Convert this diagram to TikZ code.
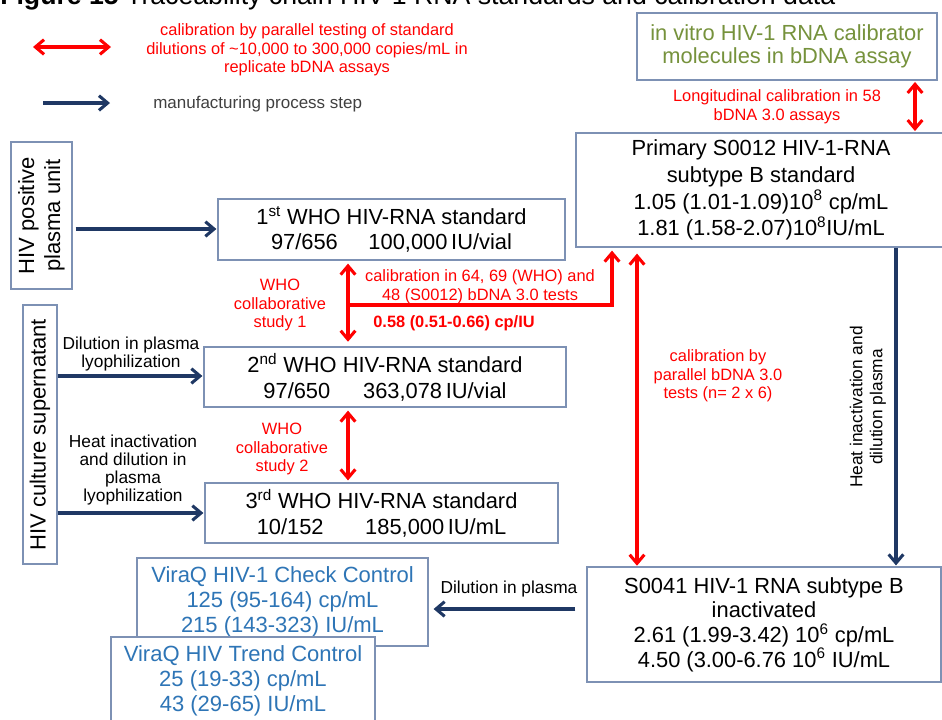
\documentclass[tikz,border=0pt]{standalone}
\usepackage{fontspec}
\setmainfont{Liberation Sans}
\usetikzlibrary{arrows.meta}
\definecolor{navy}{RGB}{31,56,100}
\definecolor{boxline}{RGB}{125,145,180}
\definecolor{olivegreen}{RGB}{118,146,60}
\definecolor{vqblue}{RGB}{46,117,182}
\definecolor{labgray}{RGB}{64,64,64}
\begin{document}
\begin{tikzpicture}[x=0.75pt,y=-0.75pt,
  box/.style={draw=boxline,line width=0.9pt,fill=white,inner sep=0pt,align=center},
  boxtext/.style={font=\fontsize{16.4}{19}\selectfont},
  redtext/.style={text=red,align=center,inner sep=0pt,font=\fontsize{12.3}{13.9}\selectfont},
  blacklabel/.style={text=black,align=center,inner sep=0pt,font=\fontsize{13}{13.5}\selectfont},
  navyarrow/.style={draw=navy,line width=2.3pt,-{Straight Barb[length=6.5pt,width=11pt]}},
  redboth/.style={draw=red,line width=2.3pt,{Straight Barb[length=6.5pt,width=11pt]}-{Straight Barb[length=6.5pt,width=11pt]}},
  redone/.style={draw=red,line width=2.3pt,-{Straight Barb[length=6.5pt,width=11pt]}},
]
\useasboundingbox (0,0) rectangle (942,719);
\clip (0,0) rectangle (942,719);

% title (cropped at the top in the reference)
\node[anchor=base west,inner sep=0pt,font=\fontsize{20}{20}\selectfont] (title) at (0,4)
  {\textbf{Figure 15} Traceability chain HIV-1 RNA standards and calibration data};

% legend
\coordinate (lra) at (33,47);
\coordinate (lrb) at (111,47);
\draw[redboth] (lra) -- (lrb);
\node[redtext] (legred) at (307,50)
  {calibration by parallel testing of standard\\dilutions of \textasciitilde10,000 to 300,000 copies/mL in\\replicate bDNA assays};
\coordinate (lba) at (43,103);
\coordinate (lbb) at (110,103);
\draw[navyarrow] (lba) -- (lbb);
\node[anchor=base west,inner sep=0pt,text=labgray,font=\fontsize{12.75}{14}\selectfont] (legblue) at (153,108)
  {manufacturing process step};

% boxes
\node[box,text=olivegreen,font=\fontsize{16.4}{17.5}\selectfont,minimum width=225pt,minimum height=50.25pt] (green) at (787,46.5)
  {in vitro HIV-1 RNA calibrator\\molecules in bDNA assay};
\node[box,boxtext,font=\fontsize{16.4}{20}\selectfont,minimum width=277.5pt,minimum height=85.5pt] (primary) at (761,190)
  {Primary S0012 HIV-1-RNA\\subtype B standard\\1.05 (1.01-1.09)10\textsuperscript{8} cp/mL\\1.81 (1.58-2.07)10\textsuperscript{8}IU/mL};
\node[box,boxtext,minimum width=260.25pt,minimum height=45.75pt] (who1) at (391.5,229.5)
  {1\textsuperscript{st} WHO HIV-RNA standard\\97/656\hspace{1.4em}100,000\,IU/vial};
\node[box,boxtext,minimum width=271.5pt,minimum height=45pt] (who2) at (385,377)
  {2\textsuperscript{nd} WHO HIV-RNA standard\\97/650\hspace{1.5em}363,078\,IU/vial};
\node[box,boxtext,minimum width=264.75pt,minimum height=45pt] (who3) at (381.5,513)
  {3\textsuperscript{rd} WHO HIV-RNA standard\\10/152\hspace{1.9em}185,000\,IU/mL};
\node[box,boxtext,font=\fontsize{16.4}{18.5}\selectfont,minimum width=265.5pt,minimum height=86.25pt] (s0041) at (764,624.5)
  {S0041 HIV-1 RNA subtype B\\inactivated\\2.61 (1.99-3.42) 10\textsuperscript{6} cp/mL\\4.50 (3.00-6.76 10\textsuperscript{6} IU/mL};
\node[box,text=vqblue,font=\fontsize{16.5}{18.75}\selectfont,minimum width=218.25pt,minimum height=66pt] (check) at (282.5,602)
  {ViraQ HIV-1 Check Control\\125 (95-164) cp/mL\\215 (143-323) IU/mL};
\node[box,text=vqblue,font=\fontsize{16.5}{18.75}\selectfont,minimum width=198pt,minimum height=66pt] (trend) at (243,681)
  {ViraQ HIV Trend Control\\25 (19-33) cp/mL\\43 (29-65) IU/mL};
\node[box,rotate=90,font=\fontsize{16.5}{19.5}\selectfont,minimum width=110.25pt,minimum height=45.75pt] (hivpos) at (41.5,215.5)
  {HIV positive\\plasma unit};
\node[box,rotate=90,font=\fontsize{16.5}{19.5}\selectfont,minimum width=194.25pt,minimum height=25.5pt] (culture) at (40,434.5)
  {HIV culture supernatant};

% labels
\node[blacklabel] (lab1) at (131,354) {Dilution in plasma\\lyophilization};
\node[blacklabel] (lab2) at (133,470.5) {Heat inactivation\\and dilution in\\plasma\\lyophilization};
\node[blacklabel,anchor=base] (lab3) at (509,593) {Dilution in plasma};
\node[blacklabel,rotate=90,font=\fontsize{13}{15}\selectfont] (lab4) at (868,407) {Heat inactivation and\\dilution plasma};
\node[redtext] (lablong) at (777,107) {Longitudinal calibration in 58\\bDNA 3.0 assays};
\node[redtext] (labcal) at (480,287) {calibration in 64, 69 (WHO) and\\48 (S0012) bDNA 3.0 tests};
\node[redtext,anchor=base,font=\bfseries\fontsize{12.3}{13.9}\selectfont] (labratio) at (454,327) {0.58 (0.51-0.66) cp/IU};
\node[redtext] (labcs1) at (280,305) {WHO\\collaborative\\study 1};
\node[redtext] (labcs2) at (282,449) {WHO\\collaborative\\study 2};
\node[redtext] (labpar) at (718,376) {calibration by\\parallel bDNA 3.0\\tests (n= 2 x 6)};

% helper coordinates
\coordinate (xg) at (915,0);
\coordinate (xw) at (348,0);
\coordinate (xl) at (637,0);
\coordinate (xd) at (896,0);
\coordinate (junc) at (348,305);
\coordinate (brk) at (612,305);
\coordinate (ya) at (0,229);
\coordinate (yb) at (0,376);
\coordinate (yc) at (0,513);
\coordinate (yd) at (0,609);

% red calibration connectors
\draw[redboth,shorten <=1pt,shorten >=1pt] (xg |- green.south) -- (xg |- primary.north);
\draw[redboth,shorten <=2.25pt,shorten >=3.5pt] (xw |- who1.south) -- (xw |- who2.north);
\draw[redone,shorten >=2.25pt] (junc) -- (brk) -- (brk |- primary.south);
\draw[redboth,shorten <=2.25pt,shorten >=1.5pt] (xw |- who2.south) -- (xw |- who3.north);
\draw[redboth,shorten <=4.5pt,shorten >=0.5pt] (xl |- primary.south) -- (xl |- s0041.north);

% manufacturing connectors
\draw[navyarrow,shorten <=2.25pt,shorten >=0.75pt] (hivpos.south |- ya) -- (who1.west |- ya);
\draw[navyarrow,shorten >=0.75pt] (culture.south |- yb) -- (who2.west |- yb);
\draw[navyarrow,shorten >=0.75pt] (culture.south |- yc) -- (who3.west |- yc);
\draw[navyarrow,shorten >=0.75pt] (xd |- primary.south) -- (xd |- s0041.north);
\draw[navyarrow,shorten <=8.25pt,shorten >=3.75pt] (s0041.west |- yd) -- (check.east |- yd);
\end{tikzpicture}
\end{document}
